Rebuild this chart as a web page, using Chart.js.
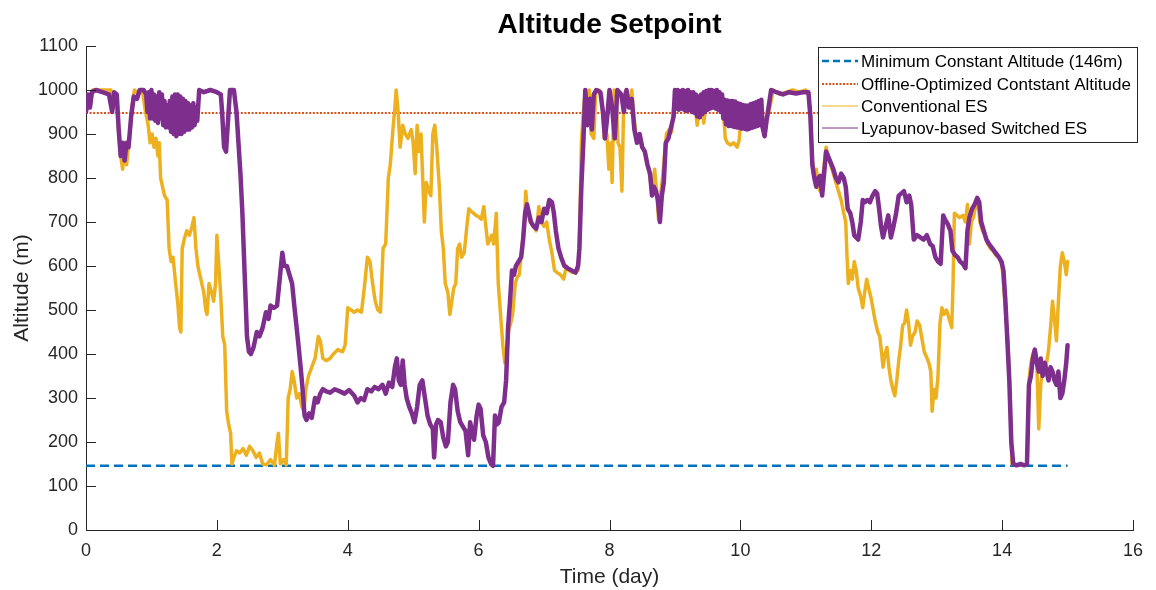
<!DOCTYPE html>
<html>
<head>
<meta charset="utf-8">
<script src="https://cdn.jsdelivr.net/npm/chart.js@4"></script>
<style>
html,body{margin:0;padding:0;background:#fff;}
#wrap{width:1156px;height:590px;}
</style>
</head>
<body>
<div id="wrap"><canvas id="c" width="1156" height="590"></canvas></div>
<script>
// ---------------- data ----------------
const chartTitle = "Altitude Setpoint";
const xLabel = "Time (day)";
const yLabel = "Altitude (m)";
const xTicks = [0, 2, 4, 6, 8, 10, 12, 14, 16];
const yTicks = [0, 100, 200, 300, 400, 500, 600, 700, 800, 900, 1000, 1100];
const seriesNames = ["Minimum Constant Altitude (146m)", "Offline-Optimized Contstant Altitude", "Conventional ES", "Lyapunov-based Switched ES"];
const constTimes = [0, 15];
const minAlt = [146, 146];
const offlineAlt = [948, 948];

// [time (day), altitude (m)]
const conventionalES = [[0.00,950],[0.03,990],[0.06,975],[0.10,1000],[0.20,1000],[0.30,1000],[0.38,1000],[0.42,960],[0.46,990],[0.50,900],[0.53,850],[0.56,820],[0.59,870],[0.62,830],[0.64,860],[0.67,900],[0.70,960],[0.74,1000],[0.80,990],[0.86,1000],[0.91,950],[0.95,920],[0.98,880],[1.01,900],[1.04,870],[1.07,890],[1.10,850],[1.12,880],[1.14,800],[1.17,780],[1.20,760],[1.24,750],[1.27,640],[1.30,610],[1.33,620],[1.37,560],[1.40,520],[1.43,460],[1.45,450],[1.47,640],[1.50,660],[1.54,680],[1.58,670],[1.62,690],[1.65,710],[1.68,640],[1.71,600],[1.74,580],[1.77,560],[1.80,540],[1.83,500],[1.85,490],[1.88,560],[1.92,540],[1.95,520],[1.98,560],[2.00,670],[2.03,600],[2.06,530],[2.09,440],[2.12,420],[2.15,270],[2.18,240],[2.21,220],[2.23,150],[2.26,165],[2.30,180],[2.35,175],[2.40,185],[2.45,170],[2.50,190],[2.55,180],[2.60,165],[2.65,175],[2.70,150],[2.76,148],[2.82,160],[2.88,147],[2.92,200],[2.94,220],[2.97,150],[3.02,160],[3.06,148],[3.09,300],[3.12,320],[3.15,360],[3.18,340],[3.22,300],[3.26,310],[3.30,280],[3.33,270],[3.36,320],[3.40,350],[3.45,370],[3.50,390],[3.55,440],[3.58,430],[3.62,390],[3.67,385],[3.73,390],[3.78,400],[3.85,410],[3.92,405],[3.96,420],[4.00,505],[4.05,500],[4.10,495],[4.15,500],[4.21,495],[4.26,560],[4.30,620],[4.34,610],[4.38,560],[4.42,520],[4.46,500],[4.50,495],[4.54,640],[4.58,650],[4.62,800],[4.65,830],[4.69,910],[4.72,960],[4.74,1000],[4.77,950],[4.80,870],[4.84,920],[4.88,900],[4.92,890],[4.97,910],[5.00,880],[5.03,810],[5.06,920],[5.09,860],[5.12,900],[5.15,780],[5.17,700],[5.20,790],[5.24,770],[5.27,760],[5.30,900],[5.33,920],[5.36,870],[5.40,780],[5.43,680],[5.46,640],[5.49,560],[5.53,540],[5.56,490],[5.59,520],[5.62,550],[5.65,560],[5.68,640],[5.71,650],[5.74,620],[5.78,630],[5.82,690],[5.85,730],[5.88,725],[5.92,720],[5.96,715],[6.00,712],[6.04,706],[6.08,735],[6.11,690],[6.14,650],[6.17,660],[6.20,670],[6.23,650],[6.27,720],[6.30,560],[6.32,520],[6.34,480],[6.37,420],[6.40,380],[6.43,400],[6.46,455],[6.49,470],[6.52,490],[6.56,560],[6.59,575],[6.62,580],[6.66,640],[6.70,700],[6.72,770],[6.75,720],[6.79,700],[6.84,690],[6.88,680],[6.92,735],[6.96,700],[7.00,690],[7.04,700],[7.08,660],[7.12,630],[7.16,590],[7.20,585],[7.25,580],[7.30,570],[7.34,600],[7.38,590],[7.43,585],[7.48,590],[7.52,590],[7.54,640],[7.57,880],[7.60,950],[7.63,1000],[7.66,920],[7.69,1000],[7.72,900],[7.76,890],[7.79,1000],[7.84,1000],[7.88,990],[7.92,890],[7.96,900],[7.99,820],[8.02,880],[8.04,790],[8.07,1000],[8.10,990],[8.13,880],[8.16,870],[8.19,770],[8.22,990],[8.26,1000],[8.30,960],[8.34,1000],[8.38,930],[8.42,880],[8.46,900],[8.50,870],[8.54,860],[8.58,830],[8.62,800],[8.65,760],[8.69,820],[8.72,770],[8.75,705],[8.78,760],[8.81,800],[8.84,850],[8.87,900],[8.91,910],[8.95,905],[8.98,960],[9.02,1000],[9.08,970],[9.14,990],[9.20,965],[9.26,985],[9.31,960],[9.34,920],[9.38,960],[9.42,950],[9.44,925],[9.48,970],[9.52,995],[9.58,980],[9.64,990],[9.70,970],[9.74,950],[9.77,890],[9.80,880],[9.85,875],[9.90,880],[9.95,870],[9.98,885],[10.02,950],[10.06,940],[10.10,930],[10.15,945],[10.20,960],[10.25,955],[10.30,965],[10.34,940],[10.37,895],[10.40,930],[10.45,960],[10.50,1000],[10.60,990],[10.70,995],[10.80,1000],[10.90,995],[11.00,1000],[11.04,990],[11.07,940],[11.10,840],[11.13,810],[11.16,820],[11.19,780],[11.22,770],[11.25,790],[11.28,830],[11.31,870],[11.34,850],[11.38,830],[11.42,810],[11.46,790],[11.50,770],[11.54,750],[11.58,720],[11.61,700],[11.63,620],[11.65,560],[11.68,590],[11.71,570],[11.74,610],[11.77,590],[11.80,550],[11.84,530],[11.87,505],[11.90,540],[11.93,570],[11.96,550],[12.00,525],[12.03,500],[12.06,475],[12.10,450],[12.13,440],[12.16,400],[12.18,370],[12.21,400],[12.24,415],[12.27,370],[12.30,340],[12.33,320],[12.36,305],[12.39,340],[12.42,385],[12.45,420],[12.48,465],[12.51,470],[12.54,500],[12.57,470],[12.60,420],[12.63,440],[12.67,450],[12.70,475],[12.74,465],[12.78,430],[12.81,405],[12.84,395],[12.88,380],[12.91,360],[12.93,270],[12.96,320],[12.99,300],[13.02,350],[13.05,470],[13.08,505],[13.11,490],[13.15,500],[13.19,480],[13.23,460],[13.25,560],[13.27,720],[13.31,715],[13.35,710],[13.40,715],[13.44,700],[13.47,740],[13.50,650],[13.53,700],[13.56,710],[13.60,740],[13.63,750],[13.66,700],[13.70,680],[13.74,670],[13.78,650],[13.82,640],[13.86,635],[13.90,625],[13.95,620],[14.00,600],[14.03,540],[14.06,480],[14.09,430],[14.12,300],[14.15,150],[14.20,148],[14.25,147],[14.30,148],[14.35,147],[14.38,150],[14.41,340],[14.44,380],[14.47,400],[14.50,410],[14.53,380],[14.56,230],[14.59,330],[14.62,370],[14.65,360],[14.68,380],[14.71,410],[14.74,460],[14.77,520],[14.80,480],[14.83,430],[14.86,520],[14.89,600],[14.92,630],[14.95,610],[14.98,580],[15.00,610]];

const lyapunovES = [[0.00,950],[0.03,990],[0.06,960],[0.09,995],[0.15,1000],[0.25,995],[0.35,990],[0.40,950],[0.43,995],[0.47,990],[0.50,910],[0.53,850],[0.56,880],[0.59,840],[0.62,880],[0.65,870],[0.69,940],[0.73,985],[0.78,980],[0.82,1000],[0.88,1000],
[0.92,990],[0.94,950],[0.96,995],[0.98,935],[1.00,1000],[1.02,935],[1.04,990],[1.06,930],[1.08,985],[1.10,925],[1.12,995],[1.14,935],[1.16,990],[1.18,920],[1.20,975],[1.22,915],[1.24,965],[1.26,915],[1.28,975],[1.30,905],[1.32,985],[1.34,900],[1.36,990],[1.38,895],[1.40,990],[1.42,900],[1.44,985],[1.46,900],[1.48,980],[1.50,905],[1.52,975],[1.54,910],[1.56,970],[1.58,910],[1.60,965],[1.62,915],[1.64,970],[1.66,920],[1.68,960],[1.70,930],
[1.73,1000],[1.80,995],[1.90,1000],[2.00,995],[2.06,990],[2.08,950],[2.11,870],[2.14,860],[2.17,930],[2.20,1000],[2.26,1000],[2.30,950],[2.33,880],[2.36,810],[2.39,720],[2.41,640],[2.44,520],[2.46,440],[2.49,405],[2.52,400],[2.56,415],[2.61,450],[2.65,440],[2.70,460],[2.75,495],[2.79,480],[2.82,510],[2.87,505],[2.92,510],[2.96,570],[3.00,630],[3.03,600],[3.07,600],[3.11,580],[3.15,560],[3.19,500],[3.24,430],[3.28,370],[3.31,320],[3.34,260],[3.37,250],[3.41,265],[3.45,255],[3.50,300],[3.54,290],[3.58,310],[3.62,320],[3.67,315],[3.73,312],[3.80,320],[3.88,315],[3.95,310],[4.02,318],[4.10,305],[4.15,290],[4.20,300],[4.25,295],[4.30,320],[4.36,315],[4.41,325],[4.47,320],[4.53,330],[4.58,310],[4.63,335],[4.68,325],[4.72,370],[4.75,390],[4.78,340],[4.81,330],[4.84,385],[4.87,330],[4.90,300],[4.94,280],[4.98,265],[5.02,245],[5.06,280],[5.10,330],[5.14,340],[5.18,300],[5.22,260],[5.26,240],[5.30,230],[5.32,165],[5.35,240],[5.38,250],[5.42,245],[5.46,210],[5.50,190],[5.53,200],[5.57,290],[5.61,330],[5.64,320],[5.68,270],[5.72,245],[5.76,235],[5.80,225],[5.84,170],[5.87,245],[5.90,225],[5.93,205],[5.97,260],[6.00,285],[6.03,275],[6.07,215],[6.11,200],[6.15,165],[6.19,150],[6.22,146],[6.25,260],[6.28,240],[6.31,245],[6.35,280],[6.39,290],[6.42,340],[6.45,460],[6.48,520],[6.51,590],[6.54,580],[6.57,600],[6.61,610],[6.65,620],[6.68,660],[6.71,720],[6.74,740],[6.77,720],[6.80,700],[6.84,690],[6.88,685],[6.92,710],[6.96,700],[7.00,730],[7.04,720],[7.08,750],[7.12,745],[7.15,720],[7.18,680],[7.22,640],[7.26,620],[7.31,600],[7.36,595],[7.42,590],[7.48,585],[7.52,600],[7.54,640],[7.57,780],[7.60,880],[7.63,1000],[7.66,920],[7.70,980],[7.73,910],[7.76,990],[7.80,1000],[7.86,995],[7.90,950],[7.93,890],[7.96,930],[8.00,1000],[8.04,960],[8.08,890],[8.12,1000],[8.18,990],[8.22,950],[8.26,1000],[8.30,960],[8.34,980],[8.38,910],[8.42,880],[8.46,900],[8.50,870],[8.54,860],[8.58,830],[8.62,810],[8.65,760],[8.68,780],[8.71,770],[8.74,750],[8.77,700],[8.80,760],[8.83,790],[8.86,880],[8.90,890],[8.94,915],[8.98,940],
[9.00,1000],[9.02,958],[9.04,1000],[9.06,955],[9.08,998],[9.10,958],[9.12,1000],[9.14,955],[9.16,998],[9.18,952],[9.20,1000],[9.22,955],[9.24,995],[9.26,950],[9.28,995],[9.30,948],[9.32,990],[9.34,940],[9.36,985],[9.38,938],[9.40,990],[9.42,945],[9.44,995],[9.46,950],[9.48,998],[9.50,955],[9.52,1000],[9.54,958],[9.56,1000],[9.58,960],[9.60,998],[9.62,958],[9.64,1000],[9.66,955],[9.68,995],[9.70,950],[9.72,990],[9.74,935],[9.76,978],[9.78,922],[9.80,976],[9.82,918],[9.84,975],[9.86,918],[9.88,975],[9.90,916],[9.92,974],[9.94,915],[9.96,970],[9.98,914],[10.00,968],[10.02,912],[10.04,966],[10.06,912],[10.08,965],[10.10,910],[10.12,965],[10.14,912],[10.16,968],[10.18,914],[10.20,970],[10.22,916],[10.24,972],[10.26,918],[10.28,975],[10.30,920],[10.32,978],[10.34,915],
[10.37,895],[10.40,930],[10.43,960],[10.47,1000],[10.55,995],[10.65,990],[10.75,995],[10.85,992],[10.95,995],[11.04,995],[11.07,940],[11.10,830],[11.13,800],[11.16,780],[11.19,800],[11.22,805],[11.25,760],[11.28,810],[11.31,860],[11.34,850],[11.38,835],[11.42,820],[11.46,800],[11.50,790],[11.54,810],[11.58,800],[11.61,780],[11.64,730],[11.68,720],[11.71,700],[11.74,670],[11.77,665],[11.80,660],[11.84,700],[11.87,750],[11.90,745],[11.94,750],[11.98,745],[12.02,760],[12.06,770],[12.09,765],[12.12,730],[12.15,690],[12.18,665],[12.22,690],[12.26,715],[12.30,665],[12.34,690],[12.38,720],[12.42,760],[12.46,765],[12.50,770],[12.54,745],[12.58,760],[12.61,740],[12.65,660],[12.70,670],[12.75,665],[12.80,660],[12.85,670],[12.90,650],[12.94,645],[12.98,620],[13.02,610],[13.06,605],[13.10,715],[13.13,705],[13.17,695],[13.21,680],[13.24,635],[13.28,625],[13.32,620],[13.36,610],[13.40,605],[13.44,595],[13.47,680],[13.50,710],[13.54,730],[13.58,740],[13.62,755],[13.65,745],[13.68,700],[13.72,680],[13.76,660],[13.80,650],[13.85,640],[13.90,630],[13.95,620],[13.99,610],[14.02,590],[14.05,520],[14.08,430],[14.11,340],[14.14,200],[14.17,150],[14.22,147],[14.28,150],[14.34,147],[14.38,150],[14.41,330],[14.44,350],[14.47,390],[14.50,410],[14.53,380],[14.56,360],[14.59,390],[14.62,350],[14.65,380],[14.68,360],[14.71,340],[14.74,370],[14.77,360],[14.80,340],[14.83,330],[14.86,360],[14.89,300],[14.92,310],[14.95,340],[14.98,380],[15.00,420]];

// ---------------- styling ----------------
const FONT = '"Liberation Sans", Arial, Helvetica, sans-serif';
const AXIS_COLOR = '#262626';
const C_MIN = '#0072BD', C_OFF = '#D95319', C_CONV = '#EDB120', C_LYAP = '#7E2F8E';

function pairs(list) { return list.map(p => ({ x: p[0], y: p[1] })); }
function pts(xs, ys) { return xs.map((x, i) => ({ x: x, y: ys[i] })); }

const decorPlugin = {
  id: 'decor',
  afterDraw(chart) {
    const ctx = chart.ctx, a = chart.chartArea;
    const xs = chart.scales.x, ys = chart.scales.y;
    ctx.save();
    // inward ticks
    ctx.strokeStyle = AXIS_COLOR; ctx.lineWidth = 1;
    ctx.beginPath();
    xTicks.forEach(v => { const px = Math.round(xs.getPixelForValue(v)) + 0.5; ctx.moveTo(px, a.bottom); ctx.lineTo(px, a.bottom - 10); });
    yTicks.forEach(v => { const py = Math.round(ys.getPixelForValue(v)) + 0.5; ctx.moveTo(a.left, py); ctx.lineTo(a.left + 10, py); });
    ctx.stroke();
    // title
    ctx.fillStyle = '#000';
    ctx.textAlign = 'center'; ctx.textBaseline = 'middle';
    ctx.font = 'bold 28px ' + FONT;
    ctx.fillText(chartTitle, (a.left + a.right) / 2, 25);
    // axis labels
    ctx.fillStyle = AXIS_COLOR;
    ctx.font = '21px ' + FONT;
    ctx.fillText(xLabel, (a.left + a.right) / 2, 577);
    ctx.save();
    ctx.translate(22, (a.top + a.bottom) / 2);
    ctx.rotate(-Math.PI / 2);
    ctx.fillText(yLabel, 0, 0);
    ctx.restore();
    // legend
    const lx = 818.5, ly = 47.5, lw = 319, lh = 95;
    ctx.fillStyle = '#fff';
    ctx.fillRect(lx, ly, lw, lh);
    ctx.strokeStyle = AXIS_COLOR; ctx.lineWidth = 1;
    ctx.strokeRect(lx, ly, lw, lh);
    const rows = [61, 84, 106, 128];
    const styles = [
      { c: C_MIN, w: 2.5, d: [7, 4] },
      { c: C_OFF, w: 2, d: [2, 1.5] },
      { c: C_CONV, w: 1, d: [] },
      { c: C_LYAP, w: 1, d: [] }
    ];
    ctx.font = '17px ' + FONT;
    ctx.textAlign = 'left';
    rows.forEach((ry, i) => {
      const s = styles[i];
      ctx.strokeStyle = s.c; ctx.lineWidth = s.w; ctx.setLineDash(s.d);
      ctx.beginPath(); ctx.moveTo(822, ry); ctx.lineTo(858, ry); ctx.stroke();
      ctx.setLineDash([]);
      ctx.fillStyle = '#000';
      ctx.fillText(seriesNames[i], 861, ry + 1);
    });
    ctx.restore();
  }
};

new Chart(document.getElementById('c'), {
  type: 'line',
  data: {
    datasets: [
      { label: seriesNames[3], data: pairs(lyapunovES), borderColor: C_LYAP, borderWidth: 4.5, borderJoinStyle: 'round', borderCapStyle: 'round', pointRadius: 0, tension: 0, order: 0 },
      { label: seriesNames[2], data: pairs(conventionalES), borderColor: C_CONV, borderWidth: 3.5, borderJoinStyle: 'round', borderCapStyle: 'round', pointRadius: 0, tension: 0, order: 1 },
      { label: seriesNames[1], data: pts(constTimes, offlineAlt), borderColor: C_OFF, borderWidth: 2, borderDash: [2, 1.6], pointRadius: 0, order: 2 },
      { label: seriesNames[0], data: pts(constTimes, minAlt), borderColor: C_MIN, borderWidth: 2.5, borderDash: [9, 5], pointRadius: 0, order: 3 }
    ]
  },
  options: {
    responsive: false,
    animation: false,
    layout: { padding: { top: 46, right: 23, left: 0, bottom: 0 } },
    plugins: { legend: { display: false }, tooltip: { enabled: false }, title: { display: false } },
    scales: {
      x: {
        type: 'linear', min: 0, max: 16,
        afterFit(s) { s.height = 60; },
        afterBuildTicks(s) { s.ticks = xTicks.map(v => ({ value: v })); },
        grid: { display: false, drawTicks: false },
        border: { display: true, color: AXIS_COLOR, width: 1 },
        ticks: { autoSkip: false, maxRotation: 0, padding: 10, color: AXIS_COLOR, font: { family: FONT, size: 18 }, callback: v => String(v) }
      },
      y: {
        type: 'linear', min: 0, max: 1100,
        afterFit(s) { s.width = 86; },
        afterBuildTicks(s) { s.ticks = yTicks.map(v => ({ value: v })); },
        grid: { display: false, drawTicks: false },
        border: { display: true, color: AXIS_COLOR, width: 1 },
        ticks: { autoSkip: false, padding: 8, color: AXIS_COLOR, font: { family: FONT, size: 18 }, callback: v => String(v) }
      }
    }
  },
  plugins: [decorPlugin]
});
</script>
</body>
</html>
